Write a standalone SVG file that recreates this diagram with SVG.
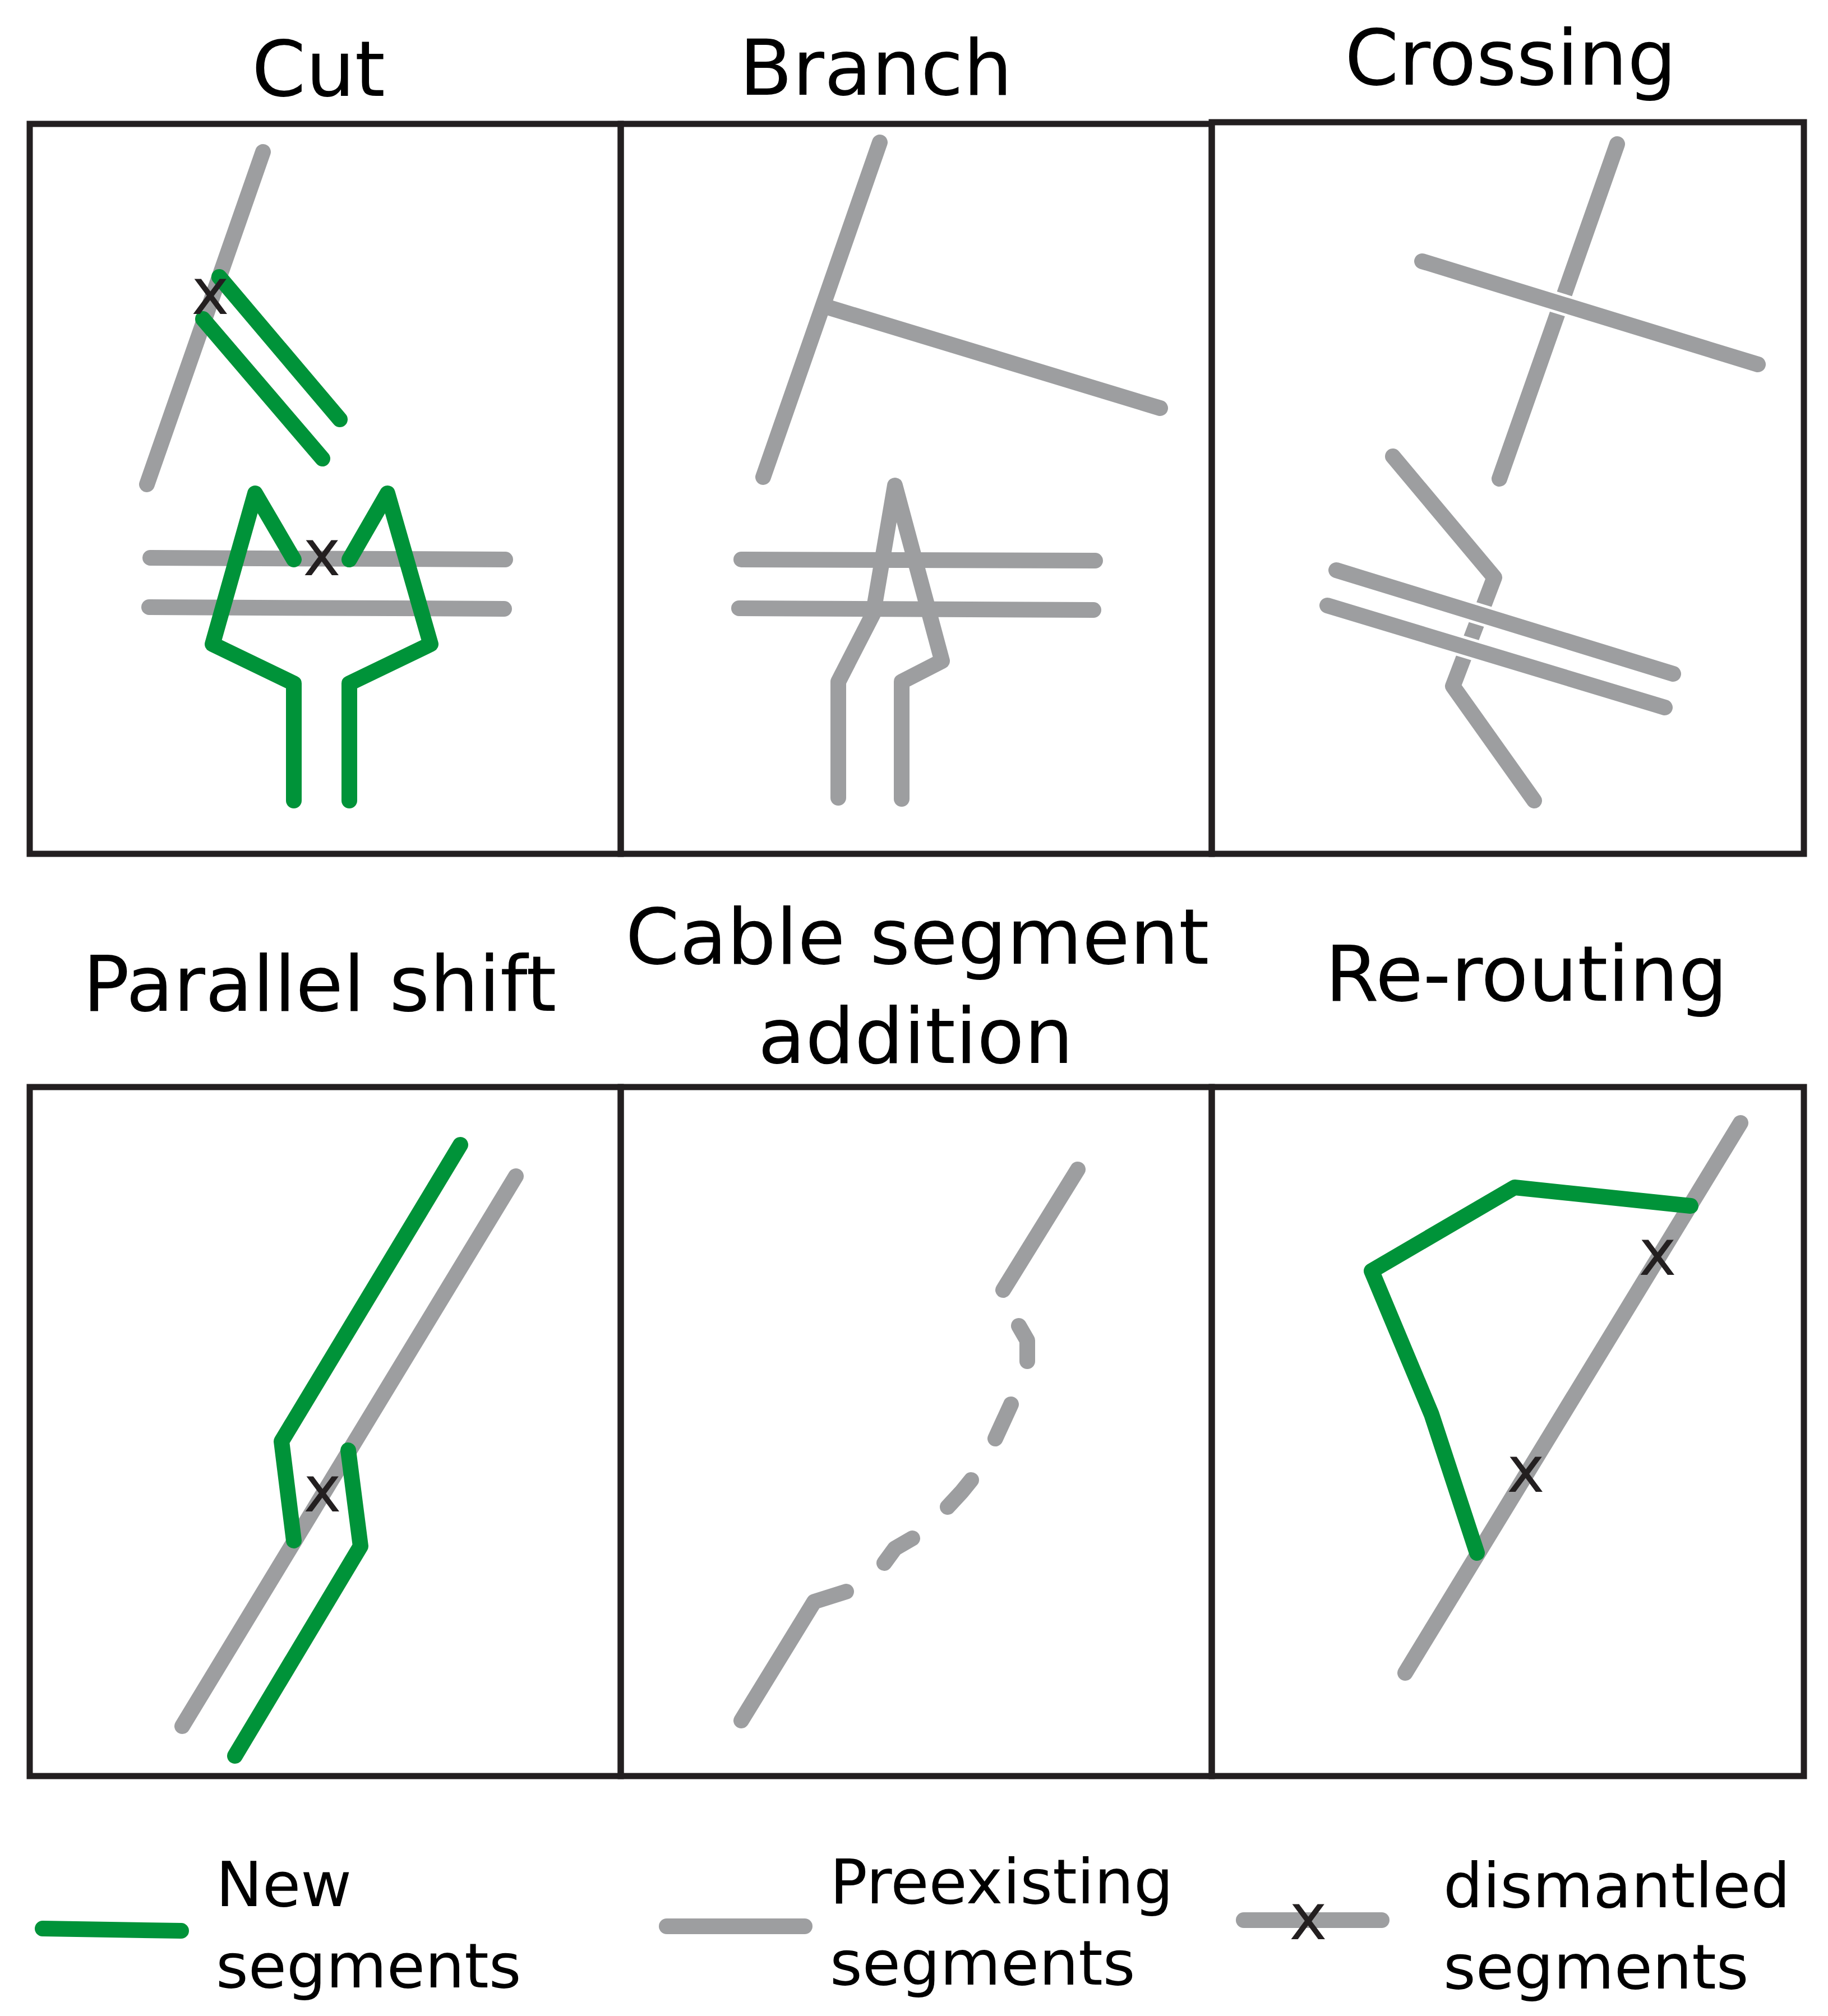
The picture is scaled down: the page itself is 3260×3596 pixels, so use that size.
<svg xmlns="http://www.w3.org/2000/svg" width="3260" height="3596" viewBox="0 0 3260 3596">
<style>
.bg{fill:#ffffff}
.frame{fill:none;stroke:#231f20;stroke-width:11}
.old{fill:none;stroke:#9d9ea0;stroke-width:28;stroke-linecap:round;stroke-linejoin:round}
.new{fill:none;stroke:#009339;stroke-width:28;stroke-linecap:round;stroke-linejoin:round}
.halo{fill:none;stroke:#ffffff;stroke-width:38;stroke-linecap:butt}
.title{font-family:"DejaVu Sans",Verdana,sans-serif;font-size:138px;text-anchor:middle;fill:#000000}
.leg{font-family:"DejaVu Sans",Verdana,sans-serif;font-size:111px;fill:#000000}
.mark{font-family:"DejaVu Sans",Verdana,sans-serif;font-size:114px;text-anchor:middle;fill:#231f20}
</style>
<rect class="bg" x="0" y="0" width="3260" height="3596"/>

<g id="panel-cut">
  <text class="title" x="568" y="171">Cut</text>
  <rect class="frame" x="53" y="221" width="1054" height="1302"/>
  <line class="old" x1="469" y1="271" x2="262" y2="864"/>
  <line class="old" x1="268" y1="995" x2="901" y2="998"/>
  <line class="old" x1="266" y1="1083" x2="899" y2="1086"/>
  <line class="new" x1="391" y1="494" x2="606" y2="748"/>
  <line class="new" x1="362" y1="569" x2="575" y2="818"/>
  <polyline class="new" points="524,998 455,880 379,1149 524,1219 524,1428"/>
  <polyline class="new" points="623,998 691,880 768,1149 623,1219 623,1428"/>
  <text class="mark" x="375" y="560">x</text>
  <text class="mark" x="574" y="1026">x</text>
</g>

<g id="panel-branch">
  <text class="title" x="1562" y="169">Branch</text>
  <rect class="frame" x="1107" y="221" width="1054" height="1302"/>
  <line class="old" x1="1569" y1="254" x2="1361" y2="851"/>
  <line class="old" x1="1473" y1="547" x2="2069" y2="728"/>
  <line class="old" x1="1322" y1="998" x2="1953" y2="1000"/>
  <line class="old" x1="1318" y1="1085" x2="1950" y2="1088"/>
  <polyline class="old" points="1495,1423 1495,1216 1557,1095 1596,866 1680,1179 1608,1216 1608,1425"/>
</g>

<g id="panel-crossing">
  <text class="title" x="2694" y="151">Crossing</text>
  <rect class="frame" x="2161" y="218" width="1056" height="1305"/>
  <line class="old" x1="2884" y1="257" x2="2674" y2="854"/>
  <line class="halo" x1="2740" y1="528.7" x2="2830" y2="556.3"/>
  <line class="old" x1="2536" y1="466" x2="3135" y2="650"/>
  <polyline class="old" points="2484,814 2665,1030 2591,1224 2736,1428"/>
  <line class="halo" x1="2600" y1="1083.8" x2="2680" y2="1108.4"/>
  <line class="old" x1="2383" y1="1017" x2="2984" y2="1202"/>
  <line class="halo" x1="2577" y1="1143.5" x2="2657" y2="1167.7"/>
  <line class="old" x1="2367" y1="1080" x2="2969" y2="1262"/>
</g>

<g id="panel-parallel-shift">
  <text class="title" x="570" y="1803">Parallel shift</text>
  <rect class="frame" x="53" y="1939" width="1054" height="1229"/>
  <line class="old" x1="920" y1="2098" x2="325" y2="3079"/>
  <polyline class="new" points="821,2042 502,2571 524,2748"/>
  <polyline class="new" points="621,2587 643,2758 419,3132"/>
  <text class="mark" x="575" y="2696">x</text>
</g>

<g id="panel-cable-segment-addition">
  <text class="title" x="1636" y="1719">Cable segment</text>
  <text class="title" x="1633" y="1896">addition</text>
  <rect class="frame" x="1107" y="1939" width="1054" height="1229"/>
  <line class="old" x1="1922" y1="2086" x2="1789" y2="2301"/>
  <polyline class="old" points="1817,2365 1832,2391 1832,2428"/>
  <line class="old" x1="1803" y1="2505" x2="1775" y2="2566"/>
  <polyline class="old" points="1732,2640 1715,2661 1690,2688"/>
  <polyline class="old" points="1627,2744 1596,2762 1577,2788"/>
  <polyline class="old" points="1509,2839 1452,2857 1322,3069"/>
</g>

<g id="panel-rerouting">
  <text class="title" x="2722" y="1785">Re-routing</text>
  <rect class="frame" x="2161" y="1939" width="1056" height="1229"/>
  <line class="old" x1="3104" y1="2003" x2="2506" y2="2984"/>
  <polyline class="new" points="3015,2151 2701,2118 2446,2267 2553,2523 2634,2770"/>
  <text class="mark" x="2956" y="2274">x</text>
  <text class="mark" x="2721" y="2661">x</text>
</g>

<g id="legend">
  <g id="legend-new">
    <line class="new" x1="76" y1="3440" x2="323" y2="3444"/>
    <text class="leg" x="385" y="3400">New</text>
    <text class="leg" x="385" y="3545">segments</text>
  </g>
  <g id="legend-preexisting">
    <line class="old" x1="1189" y1="3436" x2="1435" y2="3436"/>
    <text class="leg" x="1480" y="3395">Preexisting</text>
    <text class="leg" x="1480" y="3540">segments</text>
  </g>
  <g id="legend-dismantled">
    <line class="old" x1="2218" y1="3425" x2="2464" y2="3425"/>
    <text class="mark" x="2333" y="3459">x</text>
    <text class="leg" x="2574" y="3402">dismantled</text>
    <text class="leg" x="2574" y="3547">segments</text>
  </g>
</g>

<g id="connectors"></g>
</svg>
